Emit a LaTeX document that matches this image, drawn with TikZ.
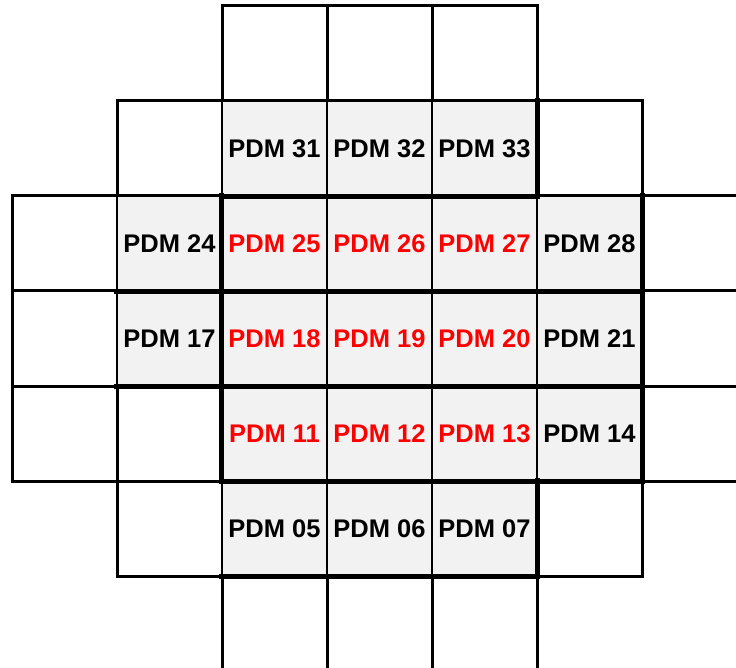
\documentclass[tikz,border=0pt]{standalone}
\usepackage{fontspec}
\setmainfont{Liberation Sans}
\usetikzlibrary{positioning}
\definecolor{cellfill}{HTML}{F2F2F2}
\definecolor{hot}{HTML}{FF0000}

\begin{document}
\begin{tikzpicture}[x=1pt,y=-1pt,
          gridline/.style={draw=black,line width=3pt},
          pdm/.style={rectangle,fill=cellfill,draw=black,line width=1.3pt,
            minimum width=105pt,minimum height=95pt,inner sep=0pt,
            font=\fontsize{25.5}{25.5}\selectfont\bfseries},
          rim/.style={line width=5.5pt,line cap=rect}]
        \useasboundingbox (0,0) rectangle (736,668);
        \clip (0,0) rectangle (736,668);
        % empty detector grid
        \foreach \r/\first/\last in {0/2/4,1/1/5,2/0/6,3/0/6,4/0/6,5/1/5,6/2/4}
          \foreach \c in {\first,...,\last}
            \draw[gridline] (12+105*\c,6+95*\r) rectangle ++(105,95);
        % modules
        \foreach \r/\c/\n/\col in {1/2/31/black,1/3/32/black,1/4/33/black,
            2/1/24/black,2/2/25/hot,2/3/26/hot,2/4/27/hot,2/5/28/black,
            3/1/17/black,3/2/18/hot,3/3/19/hot,3/4/20/hot,3/5/21/black,
            4/2/11/hot,4/3/12/hot,4/4/13/hot,4/5/14/black,
            5/2/05/black,5/3/06/black,5/4/07/black}
          \node[pdm,text=\col] (pdm\n) at (64.5+105*\c,53.5+95*\r) {PDM \n};
        % heavy edges
        \draw[rim] (pdm31.south west) -- (pdm33.south east);
        \draw[rim] (pdm24.south west) -- (pdm28.south east);
        \draw[rim] (pdm17.south west) -- (pdm21.south east);
        \draw[rim] (pdm11.south west) -- (pdm14.south east);
        \draw[rim] (pdm05.south west) -- (pdm07.south east);
        \draw[rim] (pdm25.north west) -- (pdm11.south west);
        \draw[rim] (pdm28.north east) -- (pdm14.south east);
        \draw[rim] (pdm33.north east) -- (pdm33.south east);
        \draw[rim] (pdm07.north east) -- (pdm07.south east);
      \end{tikzpicture}
\end{document}
